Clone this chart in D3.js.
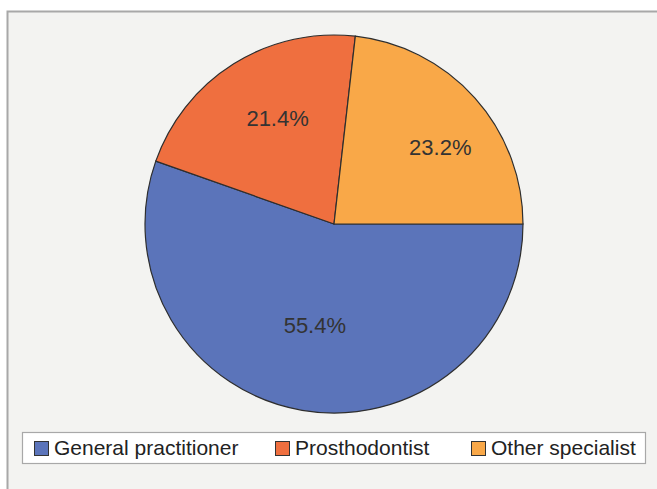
<!DOCTYPE html>
<html>
<head>
<meta charset="utf-8">
<script src="https://cdn.jsdelivr.net/npm/d3@7"></script>
<style>
  body { margin: 0; background: #fff; }
  svg { display: block; font-family: "Liberation Sans", Arial, sans-serif; }
</style>
</head>
<body>
<div id="chart"></div>
<script>
const categories = ['General practitioner', 'Prosthodontist', 'Other specialist'];
const shares = [55.4, 21.4, 23.2];
const colours = ['#5b74ba', '#ef6f3f', '#f9a848'];

const width = 657, height = 489;
const cx = 334, cy = 224, radius = 189;

// label placement per slice: distance from centre and angle tweak (degrees)
const labelPlace = {
  'General practitioner': {r: 103, da: 1},
  'Prosthodontist': {r: 120, da: 4},
  'Other specialist': {r: 131, da: 6}
};

const svg = d3.select('#chart')
  .append('svg')
  .attr('width', width)
  .attr('height', height);

// panel
svg.append('rect')
  .attr('x', 7.5).attr('y', 11.5)
  .attr('width', 700).attr('height', 520)
  .attr('fill', '#f3f3f1')
  .attr('stroke', '#a8a8a8')
  .attr('stroke-width', 2);

const data = categories.map((name, i) => ({name, value: shares[i], colour: colours[i]}));

const pie = d3.pie()
  .sort(null)
  .value(d => d.value)
  .startAngle(Math.PI / 2)
  .endAngle(Math.PI / 2 + 2 * Math.PI);

const arc = d3.arc().innerRadius(0).outerRadius(radius);

const g = svg.append('g').attr('transform', `translate(${cx},${cy})`);

g.selectAll('path.slice')
  .data(pie(data))
  .enter()
  .append('path')
  .attr('class', 'slice')
  .attr('d', arc)
  .attr('fill', d => d.data.colour)
  .attr('stroke', '#2e2e2e')
  .attr('stroke-width', 1.2);

g.selectAll('text.pct')
  .data(pie(data))
  .enter()
  .append('text')
  .attr('class', 'pct')
  .attr('transform', d => {
    const p = labelPlace[d.data.name];
    const a = (d.startAngle + d.endAngle) / 2 + p.da * Math.PI / 180;
    return `translate(${p.r * Math.sin(a)},${-p.r * Math.cos(a)})`;
  })
  .attr('text-anchor', 'middle')
  .attr('dy', '0.35em')
  .style('font-size', '22px')
  .style('fill', '#333')
  .text(d => `${d.data.value.toFixed(1)}%`);

// legend
const legend = svg.append('g');
legend.append('rect')
  .attr('x', 22.5).attr('y', 432.5)
  .attr('width', 623).attr('height', 31)
  .attr('fill', '#fff')
  .attr('stroke', '#a8a8a8')
  .attr('stroke-width', 1.2);

const legendX = [34, 275, 471];

const item = legend.selectAll('g.item')
  .data(data)
  .enter()
  .append('g')
  .attr('class', 'item')
  .attr('transform', (d, i) => `translate(${legendX[i]},441)`);

item.append('rect')
  .attr('x', 0.5).attr('y', 0.5)
  .attr('width', 14).attr('height', 14)
  .attr('fill', d => d.colour)
  .attr('stroke', '#333')
  .attr('stroke-width', 1);

item.append('text')
  .attr('x', 20)
  .attr('y', 14)
  .style('font-size', '21px')
  .style('fill', '#222')
  .text(d => d.name);
</script>
</body>
</html>
